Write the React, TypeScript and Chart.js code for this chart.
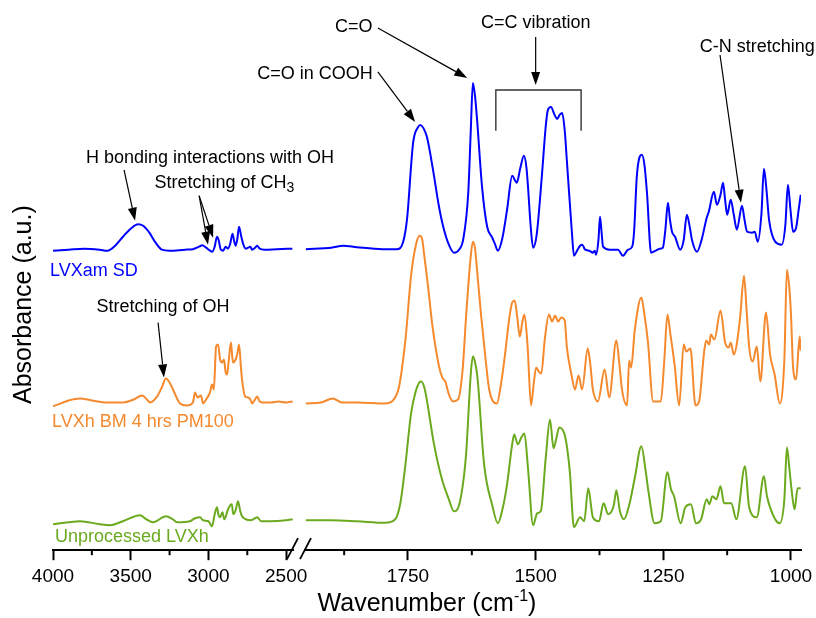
import React, { useEffect, useRef } from "react";
import { Chart, registerables } from "chart.js";

Chart.register(...registerables);

const FONT = '"Liberation Sans", Arial, Helvetica, sans-serif';

// ---------- axis ranges / ticks (cm-1) ----------
const leftRange = [2456, 4000];
const rightRange = [980.4, 1951.7];
const majorTicksLeft = [2500, 3000, 3500, 4000];
const minorTicksLeft = [3750, 3250, 2750];
const majorTicksRight = [1000, 1250, 1500, 1750];
const minorTicksRight = [1875, 1625, 1375, 1125];

// ---------- series names & colours ----------
const seriesNames = ["LVXam SD", "LVXh BM 4 hrs PM100", "Unprocessed LVXh"];
const seriesColors = ["#0000FF", "#F5892E", "#6BAA1E"];

// ---------- LVXam SD (blue) ----------
const blueLeftWn = [4000, 3900, 3800, 3700, 3650, 3600, 3550, 3500, 3453, 3420, 3380, 3340, 3300, 3250, 3150, 3100, 3060, 3040, 3015, 2990, 2975, 2960, 2945, 2935, 2920, 2905, 2890, 2875, 2860, 2845, 2835, 2825, 2815, 2803, 2790, 2775, 2760, 2745, 2730, 2720, 2700, 2687, 2670, 2640, 2560, 2460];
const blueLeftAU = [300, 301, 302, 301, 300, 305, 314, 322, 326.5, 325, 318, 308, 301, 300, 301, 301.5, 304, 305.5, 303, 300, 299, 304, 314, 311, 301, 300, 304, 302, 307, 317, 310, 305, 311, 324, 315, 306, 302, 303, 304, 301, 303, 305, 302, 301, 301.5, 302];
const blueRightWn = [1950, 1900, 1877, 1850, 1800, 1772, 1760, 1752, 1740, 1730, 1726, 1720, 1713, 1701, 1690, 1681, 1670, 1660, 1650, 1642, 1632, 1627, 1623, 1619, 1615, 1605, 1595, 1585, 1580, 1574, 1565, 1556, 1546, 1540, 1537, 1530, 1523, 1518, 1515, 1510, 1505, 1498, 1488, 1480, 1476, 1470, 1463, 1458, 1453, 1448, 1443, 1439, 1429, 1425, 1418, 1413, 1409, 1403, 1395, 1388, 1384, 1382, 1377, 1374, 1371, 1368, 1355, 1339, 1329, 1319, 1311, 1307, 1302, 1292, 1287, 1282, 1274, 1265, 1257, 1251, 1246, 1241, 1237, 1233, 1227, 1217, 1210, 1204, 1198, 1194, 1184, 1175, 1165, 1161, 1151, 1145, 1138, 1133, 1129, 1125, 1118, 1112, 1106, 1096, 1091, 1086, 1076, 1071, 1065, 1058, 1053, 1048, 1043, 1031, 1018, 1011, 1006, 1001, 996, 990, 985, 981];
const blueRightAU = [301.5, 303, 305, 303.5, 301.5, 301.5, 308, 331, 408, 424, 426, 423, 414, 381, 346, 324, 306, 298, 301, 311, 358, 421, 468, 456, 433, 364, 324, 313, 307, 300, 313, 341, 375, 370, 368, 383, 395, 383, 364, 326, 303, 316, 374, 426, 441, 444, 436, 432, 436, 438, 420, 391, 318, 295, 301, 305, 306, 301, 300, 298, 300, 296, 311, 334, 319, 304, 301, 301, 295, 301, 304, 321, 374, 396, 386, 358, 298, 300, 302, 303, 321, 348, 331, 319, 314, 301, 311, 336, 323, 311, 299, 311, 333, 339, 359, 346, 356, 368, 351, 336, 351, 336, 321, 345, 331, 319, 318, 319, 309, 336, 382, 361, 331, 309, 306, 326, 366, 341, 319, 323, 341, 356];

// ---------- LVXh BM 4 hrs PM100 (orange) ----------
const orangeLeftWn = [4000, 3950, 3900, 3826, 3750, 3652, 3550, 3480, 3427, 3390, 3376, 3330, 3300, 3273, 3250, 3228, 3183, 3138, 3100, 3086, 3070, 3048, 3035, 3015, 2990, 2977, 2965, 2951, 2938, 2925, 2912, 2900, 2890, 2880, 2870, 2855, 2848, 2842, 2825, 2815, 2803, 2790, 2784, 2764, 2745, 2730, 2719, 2700, 2687, 2670, 2655, 2600, 2550, 2500, 2458];
const orangeLeftAU = [144, 147, 150, 152, 150, 148, 148, 151, 155, 150, 148, 154, 163, 172, 168, 161, 147, 145, 148, 158, 153, 155, 147, 151, 158, 166, 161, 204, 206, 191, 188, 191, 179, 176, 189, 208, 196, 188, 191, 196, 206, 181, 171, 154, 153, 151, 147, 151, 154, 149, 148, 148, 149, 148, 149];
const orangeRightWn = [1950, 1920, 1897, 1880, 1850, 1795, 1770, 1755, 1744, 1734, 1727, 1722, 1719, 1710, 1703, 1690, 1683, 1677, 1670, 1662, 1652, 1643, 1636, 1627, 1623, 1619, 1614, 1607, 1598, 1591, 1576, 1568, 1560, 1552, 1546, 1541, 1536, 1531, 1526, 1522, 1516, 1509, 1504, 1499, 1494, 1489, 1482, 1474, 1468, 1462, 1456, 1450, 1443, 1439, 1430, 1423, 1416, 1409, 1398, 1393, 1388, 1378, 1365, 1356, 1342, 1336, 1331, 1321, 1317, 1313, 1306, 1293, 1287, 1280, 1270, 1255, 1248, 1242, 1236, 1228, 1219, 1210, 1205, 1197, 1187, 1180, 1170, 1166, 1160, 1157, 1150, 1138, 1129, 1122, 1118, 1112, 1100, 1092, 1087, 1082, 1075, 1067, 1060, 1049, 1041, 1032, 1022, 1013, 1008, 1003, 1000, 996, 990, 983, 981];
const orangeRightAU = [147, 148, 152, 148, 148, 147, 159, 211, 275, 307, 315, 311, 299, 261, 228, 186, 173, 169, 156, 149, 151, 181, 236, 295, 309, 303, 276, 236, 191, 161, 147, 166, 196, 231, 248, 250, 233, 214, 229, 236, 206, 145, 166, 183, 179, 177, 212, 236, 229, 235, 229, 233, 230, 204, 176, 161, 175, 161, 202, 186, 161, 149, 181, 153, 210, 186, 161, 145, 190, 183, 220, 253, 236, 208, 149, 149, 191, 236, 216, 186, 145, 206, 199, 202, 145, 149, 199, 210, 206, 216, 211, 240, 208, 203, 208, 196, 231, 275, 241, 204, 189, 204, 169, 238, 196, 176, 147, 191, 281, 261, 236, 184, 171, 214, 200];

// ---------- Unprocessed LVXh (green) ----------
const greenLeftWn = [4000, 3900, 3826, 3700, 3633, 3550, 3440, 3400, 3357, 3273, 3230, 3202, 3120, 3086, 3054, 3035, 3000, 2977, 2960, 2945, 2935, 2925, 2910, 2898, 2874, 2860, 2850, 2840, 2825, 2810, 2795, 2784, 2760, 2730, 2700, 2687, 2660, 2600, 2500, 2458];
const greenLeftAU = [26, 28, 29, 26, 25, 29, 35, 31, 28, 34, 31, 28, 29, 32, 33, 30, 29, 24, 36, 43, 35, 33, 38, 31, 41, 45, 46, 36, 40, 49, 39, 34, 31, 30, 32, 33, 29, 29, 30, 31];
const greenRightWn = [1950, 1900, 1850, 1795, 1775, 1765, 1755, 1744, 1735, 1728, 1724, 1718, 1714, 1699, 1683, 1670, 1660, 1650, 1640, 1636, 1627, 1623, 1619, 1614, 1601, 1585, 1574, 1565, 1556, 1546, 1542, 1535, 1528, 1522, 1515, 1505, 1497, 1490, 1480, 1472, 1465, 1460, 1454, 1444, 1438, 1433, 1425, 1413, 1405, 1397, 1388, 1376, 1367, 1358, 1347, 1342, 1335, 1327, 1316, 1306, 1293, 1285, 1280, 1267, 1255, 1242, 1235, 1229, 1216, 1207, 1196, 1186, 1176, 1165, 1160, 1154, 1146, 1138, 1131, 1117, 1107, 1090, 1082, 1067, 1053, 1047, 1031, 1022, 1013, 1008, 1003, 1000, 993, 987, 981];
const greenRightAU = [30, 30, 29, 27.5, 31, 47, 86, 137, 159, 168, 169, 163, 153, 106, 70, 51, 39, 45, 76, 98, 177, 194, 189, 173, 86, 45, 27, 41, 66, 106, 116, 106, 113, 117, 82, 25, 37, 39, 94, 131, 102, 111, 123, 117, 101, 78, 23, 33, 29, 62, 33, 29, 47, 36, 45, 60, 39, 31, 47, 72, 104, 81, 62, 27, 29, 78, 61, 54, 27, 43, 46, 27, 31, 51, 46, 54, 51, 64, 47, 47, 31, 84, 43, 33, 74, 54, 31, 27, 51, 103, 81, 66, 41, 62, 62];

// ---------- series label anchors (wavenumber on left axis, a.u.) ----------
const seriesLabelWn = [4019, 4006, 3987];
const seriesLabelAU = [280, 128, 13];

// ---------- peak annotations (anchors in data units) ----------
type Ann = {
  text: string;
  sub?: string;
  axis: "xL" | "xR";
  x: number;
  y: number;
  align: CanvasTextAlign;
  arrows: number[][];
};
const annotations: Ann[] = [
  { text: "C=O", axis: "xR", x: 1856, y: 524, align: "center", arrows: [[1809, 523, 1634, 473]] },
  { text: "C=C vibration", axis: "xR", x: 1500, y: 528, align: "center", arrows: [[1500, 514, 1500, 466]] },
  { text: "C-N stretching", axis: "xR", x: 1066, y: 504, align: "center", arrows: [[1139, 496, 1098, 348]] },
  { text: "C=O in COOH", axis: "xR", x: 1932, y: 477, align: "center", arrows: [[1809, 479, 1736, 429]] },
  { text: "H bonding interactions with OH", axis: "xL", x: 2990, y: 393, align: "center", arrows: [[3543, 381, 3472, 330]] },
  { text: "Stretching of CH", sub: "3", axis: "xL", x: 3347, y: 368, align: "left", arrows: [[3060, 355, 3003, 306], [3060, 355, 2970, 313]] },
  { text: "Stretching of OH", axis: "xL", x: 3292, y: 244, align: "center", arrows: [[3324, 228, 3286, 173]] },
];
// C=C bracket: wavenumber span and a.u. top/bottom
const bracketWn = [1578, 1411];
const bracketAU = [461, 420];

function pts(xs: number[], ys: number[]) {
  return xs.map((x, i) => ({ x, y: ys[i] }));
}

function drawArrow(ctx: CanvasRenderingContext2D, x1: number, y1: number, x2: number, y2: number) {
  const ang = Math.atan2(y2 - y1, x2 - x1);
  const hl = 13;
  const hw = 4.5;
  const bx = x2 - hl * Math.cos(ang);
  const by = y2 - hl * Math.sin(ang);
  ctx.beginPath();
  ctx.moveTo(x1, y1);
  ctx.lineTo(bx, by);
  ctx.stroke();
  ctx.beginPath();
  ctx.moveTo(x2, y2);
  ctx.lineTo(bx + hw * Math.sin(ang), by - hw * Math.cos(ang));
  ctx.lineTo(bx - hw * Math.sin(ang), by + hw * Math.cos(ang));
  ctx.closePath();
  ctx.fill();
}

const overlayPlugin = {
  id: "overlay",
  afterDraw(chart: any) {
    const ctx: CanvasRenderingContext2D = chart.ctx;
    const { xL, xR, xG, y } = chart.scales;
    const area = chart.chartArea;
    const axisY = area.bottom;
    const line = (a: number, b: number, c: number, d: number) => {
      ctx.beginPath();
      ctx.moveTo(a, b);
      ctx.lineTo(c, d);
      ctx.stroke();
    };
    ctx.save();
    // minor ticks
    ctx.strokeStyle = "#000";
    ctx.lineWidth = 2;
    minorTicksLeft.forEach((v) => {
      const x = xL.getPixelForValue(v);
      line(x, axisY, x, axisY + 5);
    });
    minorTicksRight.forEach((v) => {
      const x = xR.getPixelForValue(v);
      line(x, axisY, x, axisY + 5);
    });
    // axis break marks
    const gl = xG.left;
    ctx.lineWidth = 1.8;
    line(gl - 6, axisY + 9, gl + 5, axisY - 12);
    line(gl + 7, axisY + 9, gl + 18, axisY - 12);

    // annotations
    ctx.fillStyle = "#000";
    ctx.strokeStyle = "#000";
    ctx.lineWidth = 1.2;
    ctx.textBaseline = "middle";
    annotations.forEach((a) => {
      const sc = a.axis === "xL" ? xL : xR;
      const tx = sc.getPixelForValue(a.x);
      const ty = y.getPixelForValue(a.y);
      ctx.font = `18px ${FONT}`;
      ctx.textAlign = a.align;
      ctx.fillText(a.text, tx, ty);
      if (a.sub) {
        const w = ctx.measureText(a.text).width;
        ctx.font = `14px ${FONT}`;
        ctx.textAlign = "left";
        ctx.fillText(a.sub, tx + w, ty + 5);
      }
      a.arrows.forEach((r) => {
        drawArrow(ctx, sc.getPixelForValue(r[0]), y.getPixelForValue(r[1]), sc.getPixelForValue(r[2]), y.getPixelForValue(r[3]));
      });
    });
    // bracket
    ctx.strokeStyle = "#333";
    ctx.lineWidth = 1.4;
    const bx1 = xR.getPixelForValue(bracketWn[0]);
    const bx2 = xR.getPixelForValue(bracketWn[1]);
    const byTop = y.getPixelForValue(bracketAU[0]);
    const byBot = y.getPixelForValue(bracketAU[1]);
    ctx.beginPath();
    ctx.moveTo(bx1, byBot);
    ctx.lineTo(bx1, byTop);
    ctx.lineTo(bx2, byTop);
    ctx.lineTo(bx2, byBot);
    ctx.stroke();

    // series labels
    ctx.font = `18px ${FONT}`;
    ctx.textAlign = "left";
    ctx.textBaseline = "middle";
    seriesNames.forEach((n, i) => {
      ctx.fillStyle = seriesColors[i];
      ctx.fillText(n, xL.getPixelForValue(seriesLabelWn[i]), y.getPixelForValue(seriesLabelAU[i]));
    });

    // x title with superscript
    ctx.fillStyle = "#000";
    ctx.textBaseline = "alphabetic";
    ctx.textAlign = "left";
    const main = "Wavenumber (cm";
    const sup = "-1";
    const close = ")";
    ctx.font = `25px ${FONT}`;
    const w1 = ctx.measureText(main).width;
    const w3 = ctx.measureText(close).width;
    ctx.font = `16px ${FONT}`;
    const w2 = ctx.measureText(sup).width;
    const total = w1 + w2 + w3;
    const cx = (area.left + area.right) / 2;
    const baseY = area.bottom + 61;
    let sx = cx - total / 2;
    ctx.font = `25px ${FONT}`;
    ctx.fillText(main, sx, baseY);
    sx += w1;
    ctx.font = `16px ${FONT}`;
    ctx.fillText(sup, sx, baseY - 10);
    sx += w2;
    ctx.font = `25px ${FONT}`;
    ctx.fillText(close, sx, baseY);

    // y title
    ctx.save();
    ctx.translate(area.left - 22, (area.top + area.bottom) / 2 + 4);
    ctx.rotate(-Math.PI / 2);
    ctx.textAlign = "center";
    ctx.textBaseline = "alphabetic";
    ctx.font = `25px ${FONT}`;
    ctx.fillText("Absorbance (a.u.)", 0, 0);
    ctx.restore();

    ctx.restore();
  },
};

export default function App() {
  const ref = useRef<HTMLCanvasElement | null>(null);

  useEffect(() => {
    if (!ref.current) return;
    const mk = (data: any[], color: string, axis: string) => ({
      data,
      xAxisID: axis,
      yAxisID: "y",
      borderColor: color,
      backgroundColor: color,
      borderWidth: 2,
      pointRadius: 0,
      fill: false,
      cubicInterpolationMode: "monotone" as const,
    });
    const xCommon = (range: number[], major: number[], weight: number) => ({
      type: "linear" as const,
      axis: "x",
      position: "bottom" as const,
      stack: "xs",
      stackWeight: weight,
      reverse: true,
      min: range[0],
      max: range[1],
      afterBuildTicks: (s: any) => {
        s.ticks = major.map((v) => ({ value: v }));
      },
      grid: {
        display: true,
        drawOnChartArea: false,
        drawTicks: true,
        tickLength: 10,
        tickWidth: 2,
        tickColor: "#000",
      },
      border: { display: true, color: "#000", width: 2 },
      ticks: {
        autoSkip: false,
        maxRotation: 0,
        padding: 5,
        color: "#000",
        font: { family: FONT, size: 19 },
        callback: (v: any) => String(v),
      },
    });

    const chart = new Chart(ref.current, {
      type: "line",
      data: {
        datasets: [
          mk(pts(blueLeftWn, blueLeftAU), seriesColors[0], "xL"),
          mk(pts(blueRightWn, blueRightAU), seriesColors[0], "xR"),
          mk(pts(orangeLeftWn, orangeLeftAU), seriesColors[1], "xL"),
          mk(pts(orangeRightWn, orangeRightAU), seriesColors[1], "xR"),
          mk(pts(greenLeftWn, greenLeftAU), seriesColors[2], "xL"),
          mk(pts(greenRightWn, greenRightAU), seriesColors[2], "xR"),
        ],
      },
      options: {
        animation: false,
        responsive: true,
        maintainAspectRatio: false,
        devicePixelRatio: 1,
        layout: { padding: { left: 53, right: 15, top: 51, bottom: 25 } },
        plugins: { legend: { display: false }, tooltip: { enabled: false } },
        scales: {
          xL: xCommon(leftRange, majorTicksLeft, 240),
          xG: {
            type: "linear",
            axis: "x",
            position: "bottom",
            stack: "xs",
            stackWeight: 12,
            min: 0,
            max: 1,
            grid: { display: false, drawTicks: false },
            border: { display: false },
            ticks: { display: false },
          },
          xR: xCommon(rightRange, majorTicksRight, 496),
          y: { type: "linear", display: false, min: 0, max: 500 },
        },
      } as any,
      plugins: [overlayPlugin],
    });
    return () => chart.destroy();
  }, []);

  return (
    <div style={{ position: "absolute", left: 0, top: 0, width: 816, height: 618 }}>
      <canvas ref={ref} />
    </div>
  );
}
